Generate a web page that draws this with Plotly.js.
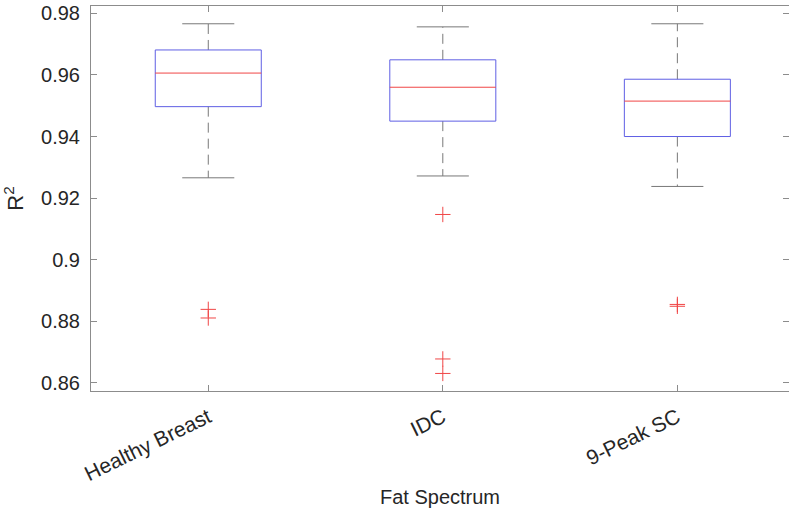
<!DOCTYPE html>
<html>
<head>
<meta charset="utf-8">
<script src="https://cdn.plot.ly/plotly-3.0.1.min.js"></script>
<style>html,body{margin:0;padding:0;background:#fff;}#chart{width:789px;height:515px;}</style>
</head>
<body>
<div id="chart"></div>
<script>
// ---- data ----
var categories = ["Healthy Breast", "IDC", "9-Peak SC"];
var positions = [1, 2, 3];
var q1Vals = [0.9497, 0.9450, 0.9400];
var medianVals = [0.9606, 0.9560, 0.9515];
var q3Vals = [0.9681, 0.9649, 0.9586];
var lowerWhisker = [0.9266, 0.9272, 0.9238];
var upperWhisker = [0.9766, 0.9756, 0.9766];
var outliersHealthy = [0.8839, 0.8811];
var outliersIDC = [0.9147, 0.8678, 0.8631];
var outliersPeak = [0.8855, 0.8849];
var yTickVals = [0.86, 0.88, 0.90, 0.92, 0.94, 0.96, 0.98];
var yTickText = ["0.86", "0.88", "0.9", "0.92", "0.94", "0.96", "0.98"];

// ---- styling ----
var boxWidth = 0.452;
var capWidth = 0.222;
var blue = "rgb(95,95,228)";
var red = "rgb(240,70,70)";
var whiskerGray = "rgb(120,120,120)";
var axisGray = "rgb(140,140,140)";
var textColor = "#262626";
var fontFamily = "Liberation Sans, Arial, Helvetica, sans-serif";
var yRange = [0.8574, 0.98237];

var traces = [];

// box outlines, whiskers, caps and medians built from the data arrays
var bx = [], by = [];
var wx = [], wy = [];
var cx = [], cy = [];
var mx = [], my = [];
for (var i = 0; i < positions.length; i++) {
  var p = positions[i];
  var l = p - boxWidth / 2, r = p + boxWidth / 2;
  bx.push(l, r, r, l, l, null);
  by.push(q1Vals[i], q1Vals[i], q3Vals[i], q3Vals[i], q1Vals[i], null);
  wx.push(p, p, null, p, p, null);
  wy.push(q3Vals[i], upperWhisker[i], null, q1Vals[i], lowerWhisker[i], null);
  cx.push(p - capWidth / 2, p + capWidth / 2, null, p - capWidth / 2, p + capWidth / 2, null);
  cy.push(upperWhisker[i], upperWhisker[i], null, lowerWhisker[i], lowerWhisker[i], null);
  mx.push(l, r, null);
  my.push(medianVals[i], medianVals[i], null);
}
traces.push({
  type: "scatter", mode: "lines", x: wx, y: wy,
  line: {color: whiskerGray, width: 1, dash: "10px,6px"},
  hoverinfo: "skip", showlegend: false
});
traces.push({
  type: "scatter", mode: "lines", x: cx, y: cy,
  line: {color: whiskerGray, width: 1},
  hoverinfo: "skip", showlegend: false
});
traces.push({
  type: "scatter", mode: "lines", x: bx, y: by,
  line: {color: blue, width: 1},
  hoverinfo: "skip", showlegend: false
});
traces.push({
  type: "scatter", mode: "lines", x: mx, y: my,
  line: {color: red, width: 1},
  hoverinfo: "skip", showlegend: false
});

// outliers
var ox = [], oy = [];
var outlierSets = [outliersHealthy, outliersIDC, outliersPeak];
for (var k = 0; k < outlierSets.length; k++) {
  for (var j = 0; j < outlierSets[k].length; j++) {
    ox.push(positions[k]);
    oy.push(outlierSets[k][j]);
  }
}
traces.push({
  type: "scatter", mode: "markers", x: ox, y: oy,
  marker: {symbol: "cross-thin-open", size: 11, line: {color: red, width: 1}, color: red},
  hoverinfo: "skip", showlegend: false
});

// empty trace so the right-hand tick-only axis is drawn
traces.push({
  type: "scatter", mode: "markers", x: [], y: [], yaxis: "y2",
  hoverinfo: "skip", showlegend: false
});

var layout = {
  width: 789,
  height: 515,
  margin: {l: 91, r: 0, t: 6, b: 124},
  paper_bgcolor: "#fff",
  plot_bgcolor: "#fff",
  font: {family: fontFamily, color: textColor, size: 20},
  showlegend: false,
  xaxis: {
    range: [0.5, 3.476],
    tickmode: "array",
    tickvals: positions,
    ticktext: categories,
    tickangle: -26,
    ticks: "inside",
    ticklen: 6,
    tickcolor: axisGray,
    showline: true,
    linecolor: axisGray,
    linewidth: 1,
    mirror: "ticks",
    showgrid: false,
    zeroline: false,
    ticklabelstandoff: 5,
    tickfont: {size: 21, color: textColor, family: fontFamily},
    title: {text: "Fat Spectrum", font: {size: 20, color: textColor, family: fontFamily}, standoff: 5}
  },
  yaxis: {
    range: yRange,
    tickmode: "array",
    tickvals: yTickVals,
    ticktext: yTickText,
    ticks: "inside",
    ticklen: 6,
    tickcolor: axisGray,
    showline: true,
    linecolor: axisGray,
    linewidth: 1,
    mirror: false,
    showgrid: false,
    zeroline: false,
    ticklabelstandoff: 6,
    tickfont: {size: 20, color: textColor, family: fontFamily},
    title: {text: "R<sup>2</sup>", font: {size: 22, color: textColor, family: fontFamily}, standoff: 11}
  },
  yaxis2: {
    overlaying: "y",
    side: "right",
    anchor: "x",
    range: yRange,
    tickmode: "array",
    tickvals: yTickVals,
    ticks: "inside",
    ticklen: 6,
    tickcolor: axisGray,
    showticklabels: false,
    showline: false,
    showgrid: false,
    zeroline: false
  }
};

Plotly.newPlot("chart", traces, layout, {staticPlot: true, displayModeBar: false});
</script>
</body>
</html>
